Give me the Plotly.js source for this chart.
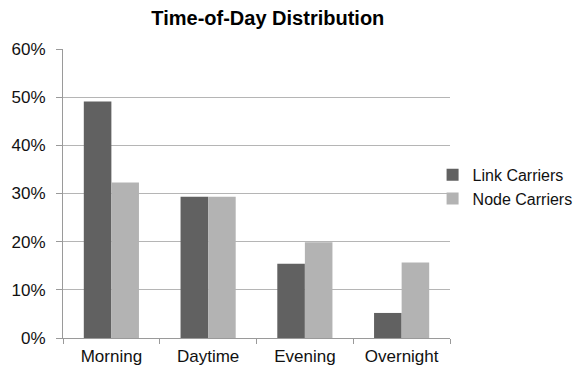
<!DOCTYPE html>
<html>
<head>
<meta charset="utf-8">
<script src="https://cdn.plot.ly/plotly-3.0.1.min.js"></script>
<style>
  html, body { margin: 0; padding: 0; background: #fff; }
  #chart { width: 581px; height: 373px; }
</style>
</head>
<body>
<div id="chart"></div>
<script>
// Share of trips by time of day
const periods = ["Morning", "Daytime", "Evening", "Overnight"];
const linkCarriers = [0.491, 0.293, 0.154, 0.052];
const nodeCarriers = [0.323, 0.293, 0.199, 0.157];
const yTickValues = [0, 0.1, 0.2, 0.3, 0.4, 0.5, 0.6];

const font = "Arial, 'Liberation Sans', sans-serif";

const traces = [
  {
    type: "bar",
    name: "Link Carriers",
    x: periods,
    y: linkCarriers,
    marker: { color: "#616161" },
    hoverinfo: "skip"
  },
  {
    type: "bar",
    name: "Node Carriers",
    x: periods,
    y: nodeCarriers,
    marker: { color: "#b3b3b3" },
    hoverinfo: "skip"
  }
];

const layout = {
  width: 581,
  height: 373,
  paper_bgcolor: "#ffffff",
  plot_bgcolor: "#ffffff",
  margin: { l: 63, r: 131, t: 49, b: 35, pad: 0, autoexpand: false },
  font: { family: font, size: 17, color: "#111" },
  title: {
    text: "<b>Time-of-Day Distribution</b>",
    font: { family: font, size: 20, color: "#000" },
    x: 0.461,
    xref: "container",
    xanchor: "center",
    y: 0.952,
    yref: "container",
    yanchor: "middle"
  },
  barmode: "group",
  bargap: 0.43,
  bargroupgap: 0,
  xaxis: {
    type: "category",
    showline: true,
    linecolor: "#9a9a9a",
    linewidth: 1,
    ticks: "outside",
    tickson: "boundaries",
    ticklen: 5,
    tickcolor: "#9a9a9a",
    showgrid: false,
    ticklabelstandoff: 3,
    tickfont: { family: font, size: 17, color: "#111" },
    fixedrange: true
  },
  yaxis: {
    range: [0, 0.6],
    tickvals: yTickValues,
    tickformat: ".0%",
    showline: true,
    linecolor: "#9a9a9a",
    linewidth: 1,
    ticks: "outside",
    ticklen: 6,
    tickcolor: "#9a9a9a",
    showgrid: true,
    gridcolor: "#b5b5b5",
    gridwidth: 1,
    zeroline: false,
    ticklabelstandoff: 7,
    tickfont: { family: font, size: 17, color: "#111" },
    fixedrange: true
  },
  showlegend: true,
  legend: {
    x: 0.955,
    xref: "paper",
    xanchor: "left",
    y: 0.523,
    yref: "paper",
    yanchor: "middle",
    font: { family: font, size: 16, color: "#111" },
    itemwidth: 30,
    bgcolor: "rgba(0,0,0,0)"
  }
};

Plotly.newPlot("chart", traces, layout, { displayModeBar: false, staticPlot: true });
</script>
</body>
</html>
